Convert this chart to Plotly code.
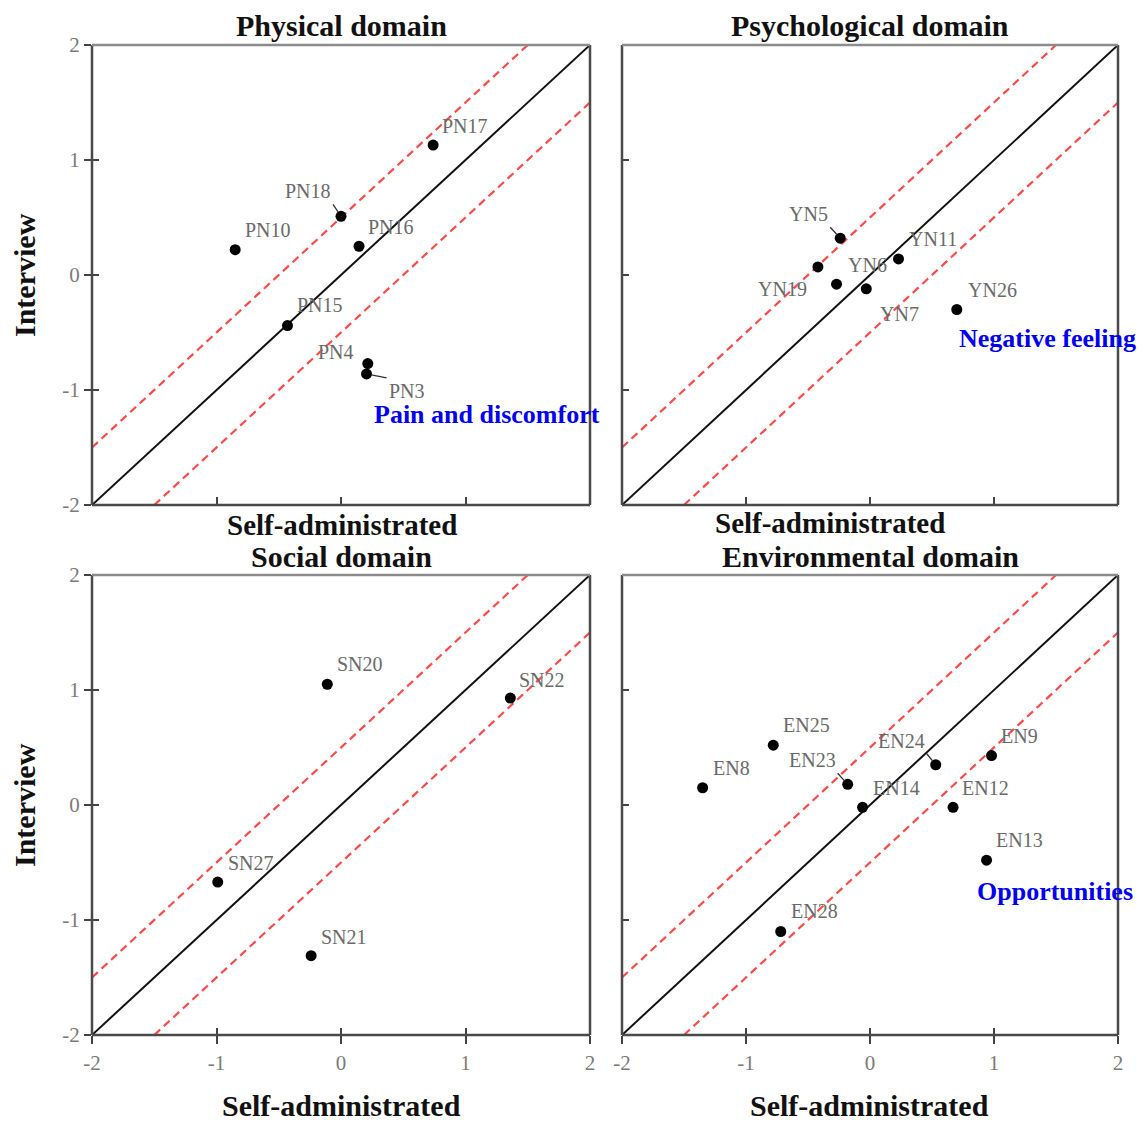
import plotly.graph_objects as go

# ---------------- data ----------------
AX_MIN, AX_MAX = -2, 2
BAND = 0.5
tick_values = [-2, -1, 0, 1, 2]
tick_text = ["-2", "-1", "0", "1", "2"]

panel_titles = ["Physical domain", "Psychological domain", "Social domain", "Environmental domain"]
x_title = "Self-administrated"
y_title = "Interview"

physical_labels = ["PN17", "PN18", "PN16", "PN10", "PN15", "PN4", "PN3"]
physical_self = [0.74, 0.00, 0.145, -0.85, -0.43, 0.215, 0.205]
physical_interview = [1.13, 0.51, 0.25, 0.22, -0.44, -0.77, -0.86]

psych_labels = ["YN5", "YN11", "YN6", "YN19", "YN7", "YN26"]
psych_self = [-0.24, 0.23, -0.27, -0.42, -0.03, 0.70]
psych_interview = [0.32, 0.14, -0.08, 0.07, -0.12, -0.30]

social_labels = ["SN20", "SN22", "SN27", "SN21"]
social_self = [-0.11, 1.36, -0.99, -0.24]
social_interview = [1.05, 0.93, -0.67, -1.31]

env_labels = ["EN25", "EN8", "EN23", "EN14", "EN24", "EN9", "EN12", "EN13", "EN28"]
env_self = [-0.78, -1.35, -0.18, -0.06, 0.53, 0.98, 0.67, 0.94, -0.72]
env_interview = [0.52, 0.15, 0.18, -0.02, 0.35, 0.43, -0.02, -0.48, -1.10]

highlight_texts = ["Pain and discomfort", "Negative feeling", "", "Opportunities"]

# ---------------- layout / style ----------------
W, H = 1143, 1130
SERIF = "Liberation Serif, Times New Roman, serif"


def fx(p):
    return p / W


def fy(p):
    return 1 - p / H


panel_boxes = [  # (left, right, top, bottom) in pixels
    (92, 590, 45, 505),
    (622, 1118, 45, 505),
    (92, 590, 575, 1035),
    (622, 1118, 575, 1035),
]

# label placement: (dx, dy_up, xanchor, leader)  pixel offsets from the point
label_place = {
    "PN17": (7, 19, "left", False), "PN18": (-8, 12, "right", True),
    "PN16": (7, 19, "left", False), "PN10": (8, 20, "left", False),
    "PN15": (8, 21, "left", False), "PN4": (-12, 12, "right", False),
    "PN3": (20, -4, "left", True),
    "YN5": (-10, 11, "right", True), "YN11": (8, 20, "left", False),
    "YN6": (9, 19, "left", False), "YN19": (-9, -22, "right", False),
    "YN7": (12, -12, "left", True), "YN26": (9, 19, "left", False),
    "SN20": (8, 20, "left", False), "SN22": (7, 18, "left", False),
    "SN27": (8, 19, "left", False), "SN21": (8, 19, "left", False),
    "EN25": (8, 20, "left", False), "EN8": (8, 20, "left", False),
    "EN23": (-10, 11, "right", True), "EN14": (8, 19, "left", False),
    "EN24": (-9, 11, "right", True), "EN9": (7, 20, "left", False),
    "EN12": (7, 19, "left", False), "EN13": (7, 20, "left", False),
    "EN28": (8, 21, "left", False),
}

highlight_pos = [(0.249, -1.21), (0.70, -0.548), None, (0.847, -0.748)]

panels = [
    (physical_self, physical_interview, physical_labels),
    (psych_self, psych_interview, psych_labels),
    (social_self, social_interview, social_labels),
    (env_self, env_interview, env_labels),
]

fig = go.Figure()
annotations = []
shapes = []
layout_axes = {}

for i, (xs, ys, labs) in enumerate(panels):
    n = i + 1
    xa = "x" if n == 1 else f"x{n}"
    ya = "y" if n == 1 else f"y{n}"
    xkey = "xaxis" if n == 1 else f"xaxis{n}"
    ykey = "yaxis" if n == 1 else f"yaxis{n}"
    left, right, top, bottom = panel_boxes[i]

    # identity line and +/- band lines
    fig.add_trace(go.Scatter(x=[AX_MIN, AX_MAX], y=[AX_MIN, AX_MAX], mode="lines",
                             line=dict(color="#111111", width=2), xaxis=xa, yaxis=ya,
                             showlegend=False, hoverinfo="skip"))
    fig.add_trace(go.Scatter(x=[AX_MIN, AX_MAX - BAND], y=[AX_MIN + BAND, AX_MAX], mode="lines",
                             line=dict(color="#ff4a4a", width=2.2, dash="8px,5px"), xaxis=xa, yaxis=ya,
                             showlegend=False, hoverinfo="skip"))
    fig.add_trace(go.Scatter(x=[AX_MIN + BAND, AX_MAX], y=[AX_MIN, AX_MAX - BAND], mode="lines",
                             line=dict(color="#ff4a4a", width=2.2, dash="8px,5px"), xaxis=xa, yaxis=ya,
                             showlegend=False, hoverinfo="skip"))
    fig.add_trace(go.Scatter(x=xs, y=ys, mode="markers", marker=dict(color="black", size=11),
                             xaxis=xa, yaxis=ya, showlegend=False, text=labs))

    is_left = n in (1, 3)
    is_bottom = n in (3, 4)
    common = dict(range=[AX_MIN, AX_MAX], showgrid=False, zeroline=False, showline=False,
                  tickmode="array", tickvals=tick_values, ticktext=tick_text,
                  tickcolor="#444444", tickwidth=2, fixedrange=True, automargin=False,
                  tickfont=dict(family=SERIF, size=21, color="#7a7a7a"))
    layout_axes[xkey] = dict(common, domain=[fx(left), fx(right)], anchor=ya,
                             ticks="outside" if is_bottom else "inside",
                             ticklen=8, showticklabels=is_bottom, ticklabelstandoff=1)
    layout_axes[ykey] = dict(common, domain=[fy(bottom), fy(top)], anchor=xa,
                             ticks="outside" if is_left else "inside",
                             ticklen=7, showticklabels=is_left)

    # spines
    for (x0, y0, x1, y1, col) in [(0, 0, 1, 0, "#4a4a4a"), (0, 0, 0, 1, "#4a4a4a"),
                                  (1, 0, 1, 1, "#4a4a4a"), (0, 1, 1, 1, "#8c8c8c")]:
        shapes.append(dict(type="line", xref=f"{xa} domain", yref=f"{ya} domain",
                           x0=x0, y0=y0, x1=x1, y1=y1, line=dict(color=col, width=2.5),
                           layer="above"))

    # point labels
    for lx, ly, lt in zip(xs, ys, labs):
        dx, dy, xanc, leader = label_place[lt]
        if leader:
            annotations.append(dict(x=lx, y=ly, xref=xa, yref=ya, text=lt, showarrow=True,
                                    ax=dx, ay=-dy, xanchor=xanc,
                                    yanchor="bottom" if dy > 0 else "top",
                                    arrowhead=0, arrowwidth=1.3, arrowcolor="#333333",
                                    standoff=5,
                                    font=dict(family=SERIF, size=20, color="#6a6a6a")))
        else:
            annotations.append(dict(x=lx, y=ly, xref=xa, yref=ya, text=lt, showarrow=False,
                                    xanchor=xanc, yanchor="middle", xshift=dx, yshift=dy,
                                    font=dict(family=SERIF, size=20, color="#6a6a6a")))

    # highlighted facet text
    if highlight_texts[i]:
        hx, hy = highlight_pos[i]
        annotations.append(dict(x=hx, y=hy, xref=xa, yref=ya, text=f"<b>{highlight_texts[i]}</b>",
                                showarrow=False, xanchor="left", yanchor="middle",
                                font=dict(family=SERIF, size=26, color="#0000ee")))

    # panel title
    cx = (left + right) / 2
    annotations.append(dict(x=fx(cx), y=fy(top - 20 if n <= 2 else top - 18), xref="paper", yref="paper",
                            text=f"<b>{panel_titles[i]}</b>", showarrow=False,
                            xanchor="center", yanchor="middle",
                            font=dict(family=SERIF, size=30, color="#111111")))

# crossing ticks: extra inside ticks on left y axes and bottom x axes
for (base_x, base_y, newx, newy, kind) in [("x", "y", None, "y5", "y"), ("x3", "y3", None, "y6", "y"),
                                            ("x3", "y3", "x5", None, "x"), ("x4", "y4", "x6", None, "x")]:
    tx = newx if newx else base_x
    ty = newy if newy else base_y
    fig.add_trace(go.Scatter(x=[None], y=[None], xaxis=tx, yaxis=ty, showlegend=False,
                             hoverinfo="skip", mode="markers"))
    extra = dict(range=[AX_MIN, AX_MAX], showgrid=False, zeroline=False, showline=False,
                 tickmode="array", tickvals=tick_values, ticks="inside", ticklen=7, tickwidth=2,
                 tickcolor="#444444", showticklabels=False, fixedrange=True, automargin=False)
    if kind == "y":
        layout_axes["yaxis" + newy[1:]] = dict(extra, overlaying=base_y, anchor=base_x, side="left")
    else:
        layout_axes["xaxis" + newx[1:]] = dict(extra, overlaying=base_x, anchor=base_y, side="bottom")

# axis titles
x_title_pos = [(342, 525, 29), (830, 523, 29), (341, 1105, 30), (869, 1105, 30)]
for (px, py, fs) in x_title_pos:
    annotations.append(dict(x=fx(px), y=fy(py), xref="paper", yref="paper", text=f"<b>{x_title}</b>",
                            showarrow=False, xanchor="center", yanchor="middle",
                            font=dict(family=SERIF, size=fs, color="#111111")))
for py in (275, 805):
    annotations.append(dict(x=fx(24), y=fy(py), xref="paper", yref="paper", text=f"<b>{y_title}</b>",
                            showarrow=False, textangle=-90, xanchor="center", yanchor="middle",
                            font=dict(family=SERIF, size=30, color="#111111")))

fig.update_layout(
    width=W, height=H,
    margin=dict(l=0, r=0, t=0, b=0, pad=0, autoexpand=False),
    paper_bgcolor="white", plot_bgcolor="white",
    annotations=annotations, shapes=shapes,
    showlegend=False,
    **layout_axes,
)

fig.write_html("out.html")
